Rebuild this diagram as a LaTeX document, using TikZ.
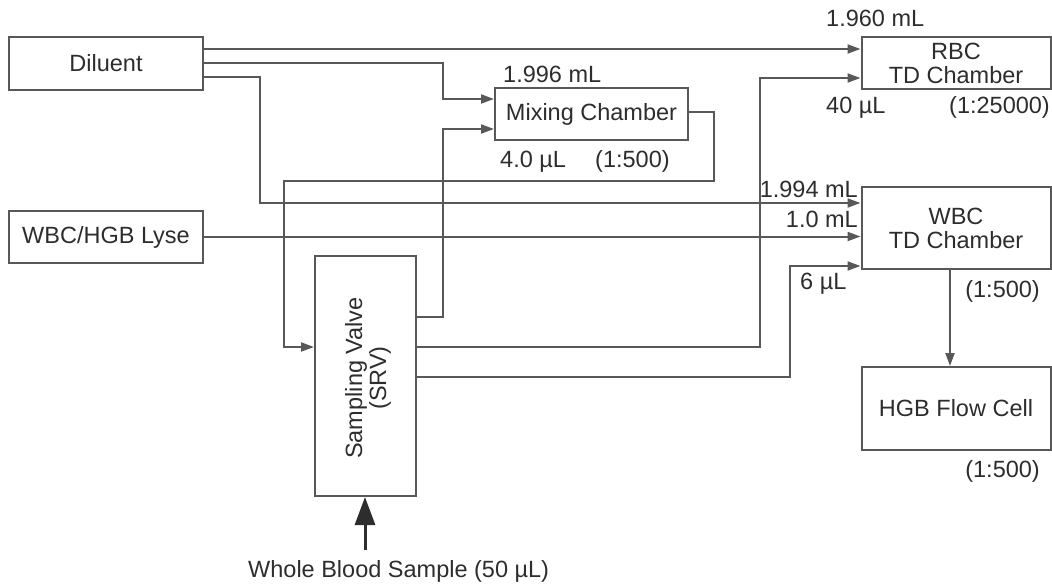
\documentclass[tikz,border=0pt]{standalone}
\usepackage{fontspec}
\setmainfont{Liberation Sans}
\usetikzlibrary{arrows.meta}
\definecolor{linec}{RGB}{88,88,88}
\definecolor{textc}{RGB}{45,45,45}
\begin{document}
\begin{tikzpicture}[x=1pt,y=-1pt,
  font=\fontsize{23.5}{24}\selectfont,
  box/.style={draw=linec, line width=2pt, text=textc, inner sep=0pt, align=center},
  flow/.style={draw=linec, line width=2pt, -{Triangle[length=13pt,width=9pt]}},
  pipe/.style={draw=linec, line width=2pt},
  lbl/.style={text=textc, inner sep=0pt}]
\useasboundingbox (0,0) rectangle (1052,587);

% boxes
\node[box, minimum width=194pt, minimum height=53pt] (dil) at (106,63.5) {Diluent};
\node[box, minimum width=194pt, minimum height=52pt] (lyse) at (106,237) {WBC/HGB Lyse};
\node[box, minimum width=193pt, minimum height=52pt] (mix) at (591.5,114) {Mixing Chamber};
\node[box, minimum width=189pt, minimum height=52pt] (rbc) at (956,63) {RBC\\TD Chamber};
\node[box, minimum width=189pt, minimum height=82pt] (wbc) at (956,228) {WBC\\TD Chamber};
\node[box, minimum width=189pt, minimum height=83pt] (hgb) at (956,408.5) {HGB Flow Cell};
\node[box, minimum width=101pt, minimum height=240pt] (srv) at (365.5,376) {};
\node[lbl, rotate=90, align=center] (srvtext) at (368,378) {Sampling Valve\\(SRV)};

% connectors
\draw[flow] (dil.east |- 0,49) -- (rbc.west |- 0,49);
\draw[flow] (dil.east |- 0,63) -- (443,63) -- (443,99) -- (mix.west |- 0,99);
\draw[flow] (dil.east |- 0,77) -- (260,77) -- (260,203) -- (wbc.west |- 0,203);
\draw[flow] (lyse.east |- 0,236.5) -- (wbc.west |- 0,236.5);
\draw[flow] (mix.east |- 0,112) -- (714,112) -- (714,181) -- (284,181) -- (284,347) -- (srv.west |- 0,347);
\draw[flow] (srv.east |- 0,317) -- (443,317) -- (443,129) -- (mix.west |- 0,129);
\draw[flow] (srv.east |- 0,347) -- (760,347) -- (760,78) -- (rbc.west |- 0,78);
\draw[flow] (srv.east |- 0,377) -- (790,377) -- (790,266) -- (wbc.west |- 0,266);
\draw[flow] (wbc.south -| 950,0) -- (hgb.north -| 950,0);

\coordinate (wb) at (365,550);
\draw[draw=textc, line width=3pt, -{Triangle[length=28pt,width=20pt]}] (wb) -- (srv.south -| wb);

% labels
\node[lbl, anchor=base west] (l1960) at (826,26) {1.960 mL};
\node[lbl, anchor=base west] (l40) at (826,113) {40 µL};
\node[lbl, anchor=base east] (l25000) at (1050,113) {(1:25000)};
\node[lbl, anchor=base west] (l1996) at (503,82) {1.996 mL};
\node[lbl, anchor=base west] (l40m) at (500,167) {4.0 µL};
\node[lbl, anchor=base west] (l500m) at (595,167) {(1:500)};
\node[lbl, anchor=base east] (l1994) at (858,197) {1.994 mL};
\node[lbl, anchor=base east] (l10) at (858,227) {1.0 mL};
\node[lbl, anchor=base west] (l6) at (800,289) {6 µL};
\node[lbl, anchor=base east] (l500w) at (1040,297) {(1:500)};
\node[lbl, anchor=base east] (l500h) at (1040,477) {(1:500)};
\node[lbl, anchor=base west] (lwb) at (248,577) {Whole Blood Sample (50 µL)};
\end{tikzpicture}
\end{document}
